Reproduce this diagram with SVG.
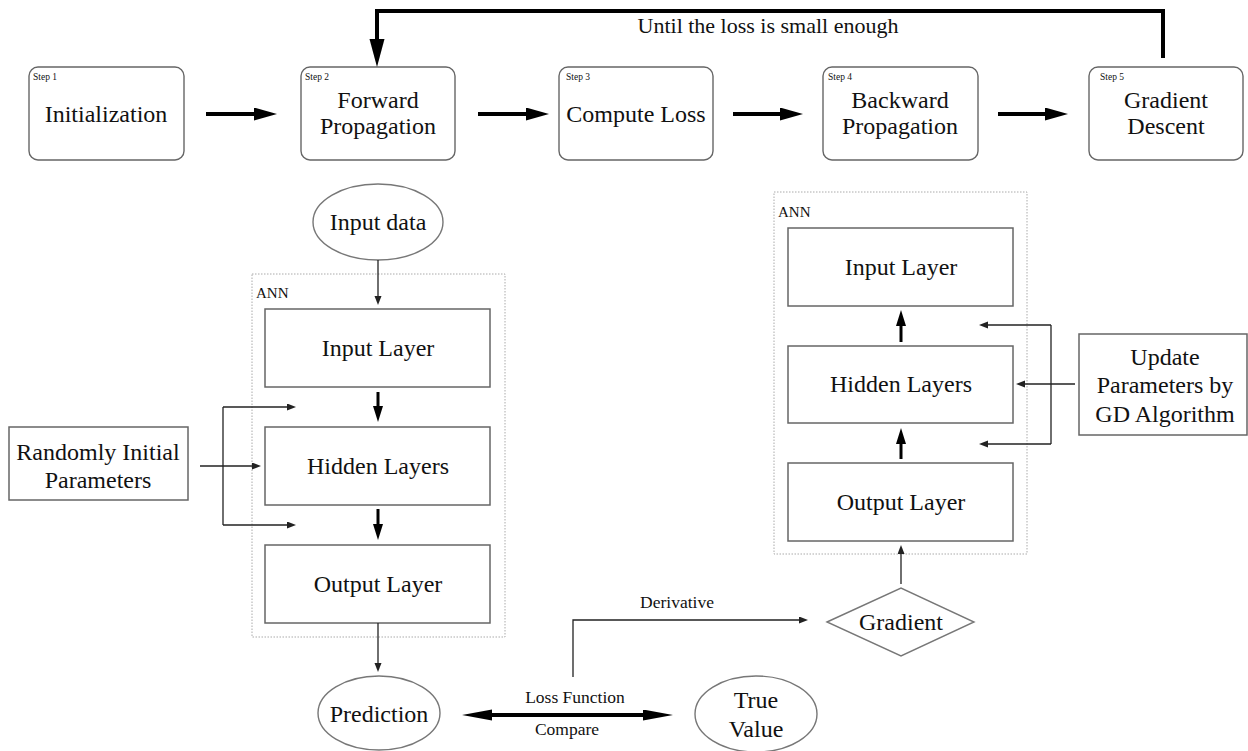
<svg xmlns="http://www.w3.org/2000/svg" width="1248" height="751" viewBox="0 0 1248 751">
<style>
text{font-family:"Liberation Serif","Times New Roman",serif;fill:#111}
.big{font-size:24px;text-anchor:middle}
.mid{font-size:17.5px;text-anchor:middle}
.step{font-size:9.5px}
.ann{font-size:15px}
.sbox{fill:#fff;stroke:#666;stroke-width:1.4}
.lbox{fill:#fff;stroke:#666;stroke-width:1.5}
.ell{fill:#fff;stroke:#777;stroke-width:1.4}
.dot{fill:none;stroke:#aaa;stroke-width:1;stroke-dasharray:1.5 1.5}
.thick{stroke:#000;stroke-width:4;fill:none}
.med{stroke:#000;stroke-width:3;fill:none}
.thin{stroke:#222;stroke-width:1.3;fill:none}
</style>
<defs>
<marker id="ahThick" markerUnits="userSpaceOnUse" markerWidth="24" markerHeight="14" refX="3" refY="6.5" orient="auto"><path d="M0,0 L23,6.5 L0,13 z" fill="#000"/></marker>
<marker id="ahLoop" markerUnits="userSpaceOnUse" markerWidth="30" markerHeight="16" refX="2" refY="7.5" orient="auto"><path d="M0,0 L28,7.5 L0,15 z" fill="#000"/></marker>
<marker id="ahMed" markerUnits="userSpaceOnUse" markerWidth="17" markerHeight="11" refX="2" refY="5" orient="auto"><path d="M0,0 L16,5 L0,10 z" fill="#000"/></marker>
<marker id="ahThin" markerUnits="userSpaceOnUse" markerWidth="10" markerHeight="8" refX="1" refY="3.5" orient="auto"><path d="M0,0 L9,3.5 L0,7 z" fill="#222"/></marker>
<marker id="ahLoss" markerUnits="userSpaceOnUse" markerWidth="31" markerHeight="12" refX="2" refY="5.5" orient="auto-start-reverse"><path d="M0,0 L30,5.5 L0,11 z" fill="#000"/></marker>
</defs>

<g id="step1"><rect class="sbox" x="29" y="67" width="155" height="93" rx="9"/><text class="step" x="33" y="80">Step 1</text><text class="big" x="106" y="122">Initialization</text></g>
<g id="step2"><rect class="sbox" x="301" y="67" width="154" height="93" rx="9"/><text class="step" x="305" y="80">Step 2</text><text class="big" x="378" y="108">Forward</text><text class="big" x="378" y="134">Propagation</text></g>
<g id="step3"><rect class="sbox" x="559" y="67" width="154" height="93" rx="9"/><text class="step" x="566" y="80">Step 3</text><text class="big" x="636" y="122">Compute Loss</text></g>
<g id="step4"><rect class="sbox" x="823" y="67" width="155" height="93" rx="9"/><text class="step" x="828" y="80">Step 4</text><text class="big" x="900" y="108">Backward</text><text class="big" x="900" y="134">Propagation</text></g>
<g id="step5"><rect class="sbox" x="1089" y="67" width="154" height="93" rx="9"/><text class="step" x="1100" y="80">Step 5</text><text class="big" x="1166" y="108">Gradient</text><text class="big" x="1166" y="134">Descent</text></g>

<g id="loop-label"><text x="768" y="33" style="font-size:22px;text-anchor:middle">Until the loss is small enough</text></g>

<g id="ann-left"><rect class="dot" x="252" y="274" width="253" height="363"/><text class="ann" x="256" y="298">ANN</text></g>
<g id="ann-right"><rect class="dot" x="774" y="192" width="253" height="362"/><text class="ann" x="778" y="217">ANN</text></g>

<g id="input-data"><ellipse class="ell" cx="378" cy="222" rx="65" ry="38"/><text class="big" x="378" y="230">Input data</text></g>
<g id="input-layer-l"><rect class="lbox" x="265" y="309" width="225" height="78"/><text class="big" x="378" y="356">Input Layer</text></g>
<g id="hidden-layers-l"><rect class="lbox" x="265" y="427" width="225" height="78"/><text class="big" x="378" y="474">Hidden Layers</text></g>
<g id="output-layer-l"><rect class="lbox" x="265" y="545" width="225" height="78"/><text class="big" x="378" y="592">Output Layer</text></g>
<g id="random-params"><rect class="lbox" x="9" y="427" width="179" height="73"/><text class="big" x="98" y="460">Randomly Initial</text><text class="big" x="98" y="488">Parameters</text></g>
<g id="prediction"><ellipse class="ell" cx="379" cy="713" rx="61" ry="37"/><text class="big" x="379" y="722">Prediction</text></g>
<g id="true-value"><ellipse class="ell" cx="756" cy="714" rx="61" ry="38"/><text class="big" x="756" y="708">True</text><text class="big" x="756" y="737">Value</text></g>
<g id="gradient"><polygon points="827,622 901,588 974,622 901,656" fill="#fff" stroke="#777" stroke-width="1.4"/><text class="big" x="901" y="630">Gradient</text></g>

<g id="input-layer-r"><rect class="lbox" x="788" y="228" width="225" height="78"/><text class="big" x="901" y="275">Input Layer</text></g>
<g id="hidden-layers-r"><rect class="lbox" x="788" y="346" width="225" height="77"/><text class="big" x="901" y="392">Hidden Layers</text></g>
<g id="output-layer-r"><rect class="lbox" x="788" y="463" width="225" height="78"/><text class="big" x="901" y="510">Output Layer</text></g>
<g id="update-params"><rect class="lbox" x="1079" y="334" width="168" height="101"/><text class="big" x="1165" y="365">Update</text><text class="big" x="1165" y="393">Parameters by</text><text class="big" x="1165" y="422">GD Algorithm</text></g>

<g id="connectors">
<line class="thick" x1="206" y1="114" x2="257" y2="114" marker-end="url(#ahThick)"/>
<line class="thick" x1="478" y1="114" x2="529" y2="114" marker-end="url(#ahThick)"/>
<line class="thick" x1="733" y1="114" x2="783" y2="114" marker-end="url(#ahThick)"/>
<line class="thick" x1="998" y1="114" x2="1048" y2="114" marker-end="url(#ahThick)"/>
<path class="thick" d="M1163,58 V11 H377 V41" marker-end="url(#ahLoop)"/>

<line class="thin" x1="378" y1="260" x2="378" y2="297" marker-end="url(#ahThin)"/>
<line class="med" x1="378" y1="392" x2="378" y2="408" marker-end="url(#ahMed)"/>
<line class="med" x1="378" y1="509" x2="378" y2="526" marker-end="url(#ahMed)"/>
<line class="thin" x1="378" y1="623" x2="378" y2="664" marker-end="url(#ahThin)"/>

<line class="thin" x1="200" y1="466" x2="253" y2="466" marker-end="url(#ahThin)"/>
<line class="thin" x1="223" y1="407" x2="223" y2="525"/>
<line class="thin" x1="223" y1="407" x2="288" y2="407" marker-end="url(#ahThin)"/>
<line class="thin" x1="223" y1="525" x2="288" y2="525" marker-end="url(#ahThin)"/>

<line class="med" x1="901" y1="342" x2="901" y2="324" marker-end="url(#ahMed)"/>
<line class="med" x1="901" y1="459" x2="901" y2="442" marker-end="url(#ahMed)"/>

<line class="thin" x1="1075" y1="384" x2="1024" y2="384" marker-end="url(#ahThin)"/>
<line class="thin" x1="1051" y1="325" x2="1051" y2="444"/>
<line class="thin" x1="1051" y1="325" x2="987" y2="325" marker-end="url(#ahThin)"/>
<line class="thin" x1="1051" y1="444" x2="987" y2="444" marker-end="url(#ahThin)"/>

<line class="thin" x1="901" y1="584" x2="901" y2="553" marker-end="url(#ahThin)"/>
<path class="thin" d="M573,677 V620 H800" marker-end="url(#ahThin)"/>

<line class="thick" x1="490" y1="715" x2="645" y2="715" marker-start="url(#ahLoss)" marker-end="url(#ahLoss)"/>
<text class="mid" x="677" y="608">Derivative</text>
<text class="mid" x="575" y="703">Loss Function</text>
<text class="mid" x="567" y="735">Compare</text>
</g>
</svg>
